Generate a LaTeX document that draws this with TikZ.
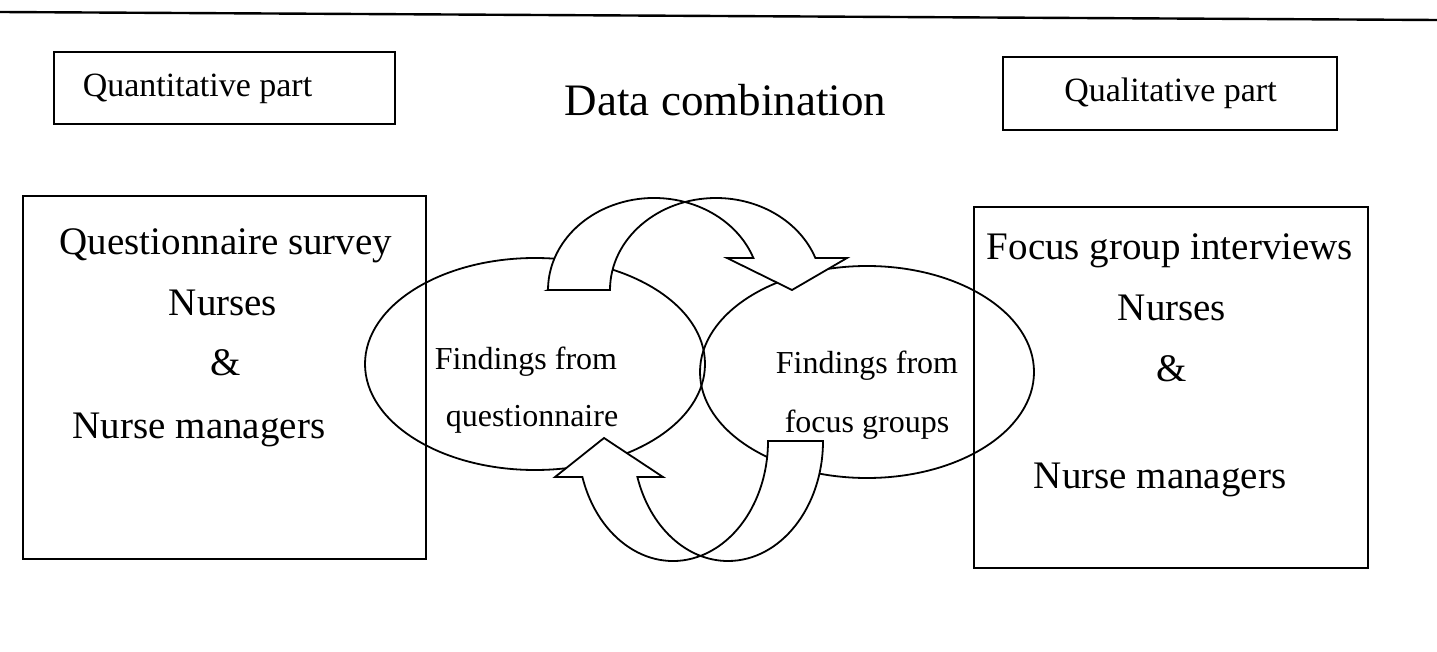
\documentclass[tikz,border=0pt]{standalone}
\usepackage{fontspec}
\setmainfont{Liberation Serif}
\usetikzlibrary{shapes.geometric}
\begin{document}
\begin{tikzpicture}[x=1pt,y=-1pt,
  txt/.style={font=\fontsize{32}{38}\selectfont, inner sep=0pt, anchor=base},
  boxtxt/.style={font=\fontsize{39}{46}\selectfont, inner sep=0pt, anchor=base},
  headtxt/.style={font=\fontsize{34}{40}\selectfont, inner sep=0pt, anchor=base},
  bigtxt/.style={font=\fontsize{45}{52}\selectfont, inner sep=0pt, anchor=base},
  frame/.style={draw, line width=1.8pt, rectangle, inner sep=0pt},
  bubble/.style={draw, line width=1.8pt, ellipse, inner sep=0pt},
  bendarrow/.style={draw, fill=white, line width=1.8pt, line join=miter}]
\useasboundingbox (0,0) rectangle (1437,652);

% rule across the top
\coordinate (ruleL) at (0,12);
\coordinate (ruleR) at (1437,20);
\draw[line width=2.4pt] (ruleL) -- (ruleR);

% headings
\node[frame, minimum width=341pt, minimum height=72pt] (quant) at (224.5,88) {};
\node[headtxt] (quantT) at (197.5,97) {Quantitative part};
\node[bigtxt] (combT) at (725.5,116) {Data combination};
\node[frame, minimum width=334pt, minimum height=73pt] (qual) at (1170,93.5) {};
\node[headtxt] (qualT) at (1170.5,102) {Qualitative part};

% method boxes
\node[frame, minimum width=403pt, minimum height=363pt] (survey) at (224.5,377.5) {};
\node[boxtxt] (s1) at (226,255) {Questionnaire survey};
\node[boxtxt] (s2) at (223,316) {Nurses};
\node[boxtxt] (s3) at (226,375) {\&};
\node[boxtxt] (s4) at (199,438) {Nurse managers};

\node[frame, minimum width=394pt, minimum height=361pt] (focus) at (1171,387.5) {};
\node[boxtxt] (f1) at (1170,260) {Focus group interviews};
\node[boxtxt] (f2) at (1172,320) {Nurses};
\node[boxtxt] (f3) at (1172,381) {\&};
\node[boxtxt] (f4) at (1160,488) {Nurse managers};

% findings
\node[bubble, minimum width=340pt, minimum height=212pt] (fq) at (535,364) {};
\node[bubble, minimum width=334pt, minimum height=212pt] (ff) at (867,372) {};
\node[txt] (fq1) at (526,369) {Findings from};
\node[txt] (fq2) at (532,426) {questionnaire};
\node[txt] (ff1) at (867,373) {Findings from};
\node[txt] (ff2) at (867,432) {focus groups};

% curved arrow from the questionnaire findings over to the focus group findings
\draw[bendarrow] (548,290) -- (610,290)
  arc[start angle=180, end angle=339.65, x radius=106, y radius=92]
  -- (847,258) -- (792,290) -- (727,258) -- (753.4,258)
  arc[start angle=339.65, end angle=180, x radius=106, y radius=92] -- cycle;

% curved arrow back underneath
\draw[bendarrow] (823,441)
  arc[start angle=0, end angle=162.54, x radius=95, y radius=120]
  -- (663,477) -- (604,438) -- (555,477) -- (582.4,477)
  arc[start angle=162.54, end angle=0, x radius=95, y radius=120] -- cycle;
\end{tikzpicture}
\end{document}
